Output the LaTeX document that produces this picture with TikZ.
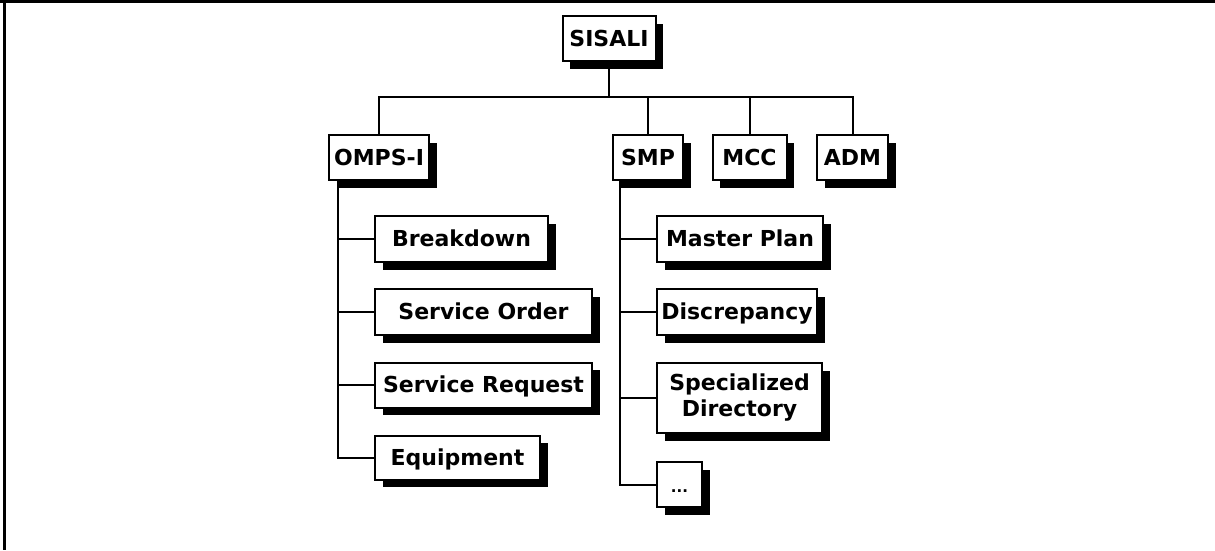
\documentclass[tikz,border=0pt]{standalone}
\usepackage{fontspec}
\setmainfont{DejaVu Sans}
\usetikzlibrary{shadows}
\begin{document}
\begin{tikzpicture}[x=1pt,y=-1pt,
  box/.style={draw=black, line width=2pt, fill=white, inner sep=0pt,
    font=\bfseries\fontsize{22}{26}\selectfont, align=center,
    text height=16pt, text depth=1pt,
    drop shadow={shadow xshift=7.5pt, shadow yshift=-7.5pt, fill=black, opacity=1}},
  link/.style={line width=2pt},
  frame/.style={line width=2.8pt}]
\useasboundingbox (0,0) rectangle (1215,550);

% partial frame (top and left edges)
\draw[frame] (0,1.8) -- (1215,1.8);
\draw[frame] (4.3,0) -- (4.3,550);

% root
\node[box, minimum width=93pt, minimum height=45pt] (sisali) at (609,38.5) {SISALI};

% second level
\node[box, minimum width=100pt, minimum height=45pt] (omps) at (379,157.5) {OMPS-I};
\node[box, minimum width=70pt, minimum height=45pt] (smp) at (648,157.5) {SMP};
\node[box, minimum width=74pt, minimum height=45pt] (mcc) at (749.5,157.5) {MCC};
\node[box, minimum width=71pt, minimum height=45pt] (adm) at (852.5,157.5) {ADM};

% OMPS-I modules
\node[box, minimum width=173pt, minimum height=46pt] (brk) at (461.5,239) {Breakdown};
\node[box, minimum width=217pt, minimum height=46pt] (sord) at (483.5,312) {Service Order};
\node[box, minimum width=217pt, minimum height=45pt] (sreq) at (483.5,385) {Service Request};
\node[box, minimum width=165pt, minimum height=44pt] (equip) at (457.5,457.5) {Equipment};

% SMP modules
\node[box, minimum width=166pt, minimum height=46pt] (mplan) at (740,239) {Master Plan};
\node[box, minimum width=160pt, minimum height=46pt] (disc) at (737,312) {Discrepancy};
\node[box, minimum width=165pt, minimum height=70pt, text height=, text depth=] (sdir) at (739.5,398) {Specialized\\Directory};
\node[box, minimum width=45pt, minimum height=45pt, font=\bfseries\fontsize{15}{18}\selectfont,
  text height=15pt, text depth=0pt] (more) at (679.5,484.5) {...};

% root to second level
\coordinate (bus) at (sisali.south |- 0,97);
\draw[link] (sisali.south) -- (bus);
\draw[link] (omps.north) |- (bus);
\draw[link] (adm.north) |- (bus);
\draw[link] (smp.north) -- (smp.north |- bus);
\draw[link] (mcc.north) -- (mcc.north |- bus);

% OMPS-I trunk
\coordinate (lt) at ([xshift=10pt]omps.south west);
\draw[link] (lt) |- (equip.west);
\draw[link] (brk.west) -- (brk.west -| lt);
\draw[link] (sord.west) -- (sord.west -| lt);
\draw[link] (sreq.west) -- (sreq.west -| lt);

% SMP trunk
\coordinate (rt) at ([xshift=8pt]smp.south west);
\draw[link] (rt) |- (more.west);
\draw[link] (mplan.west) -- (mplan.west -| rt);
\draw[link] (disc.west) -- (disc.west -| rt);
\draw[link] (sdir.west) -- (sdir.west -| rt);
\end{tikzpicture}
\end{document}
